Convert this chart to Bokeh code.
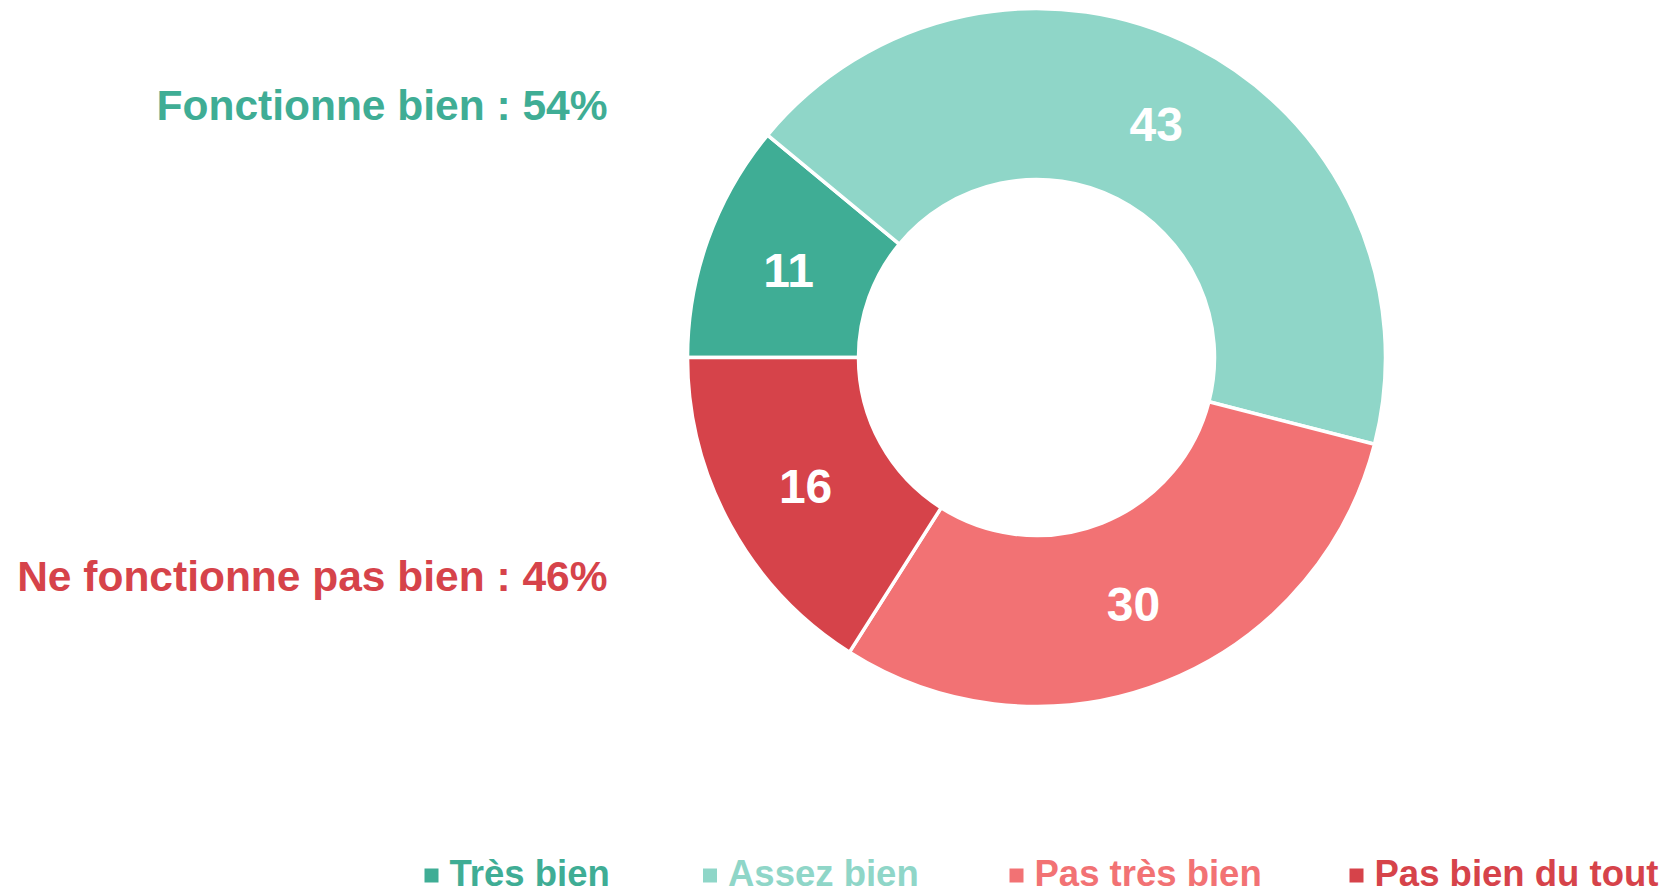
import math
from bokeh.plotting import figure
from bokeh.models import Range1d, ColumnDataSource
from bokeh.core.properties import value
from bokeh.embed import file_html
from bokeh.resources import INLINE

# ---- data ----
categories = ["Très bien", "Assez bien", "Pas très bien", "Pas bien du tout"]
values = [11, 43, 30, 16]
colors = ["#3FAD95", "#8FD6C8", "#F27274", "#D6434A"]
group_labels = ["Fonctionne bien : 54%", "Ne fonctionne pas bien : 46%"]
group_colors = ["#3FAD95", "#D6434A"]

# ---- layout (pixels, measured from figure top-left) ----
W, H = 1669, 893
CX, CY = 1036, 357
R_OUT, R_IN = 349, 178
GROUP_X = 607
GROUP_Y = [105, 575.5]
LEG_X = [424, 702.5, 1009, 1349]
LEG_SQ_Y = 875
LEG_TXT_Y = 872.5
FONT = value("Liberation Sans")

p = figure(width=W, height=H, x_range=Range1d(0, W), y_range=Range1d(0, H),
           output_backend="svg", toolbar_location=None, min_border=0,
           x_axis_location=None, y_axis_location=None,
           outline_line_color=None, background_fill_color="white",
           border_fill_color="white")
p.grid.visible = False

total = sum(values)
starts, ends, mids = [], [], []
cum = 0
for v in values:
    a0 = math.pi - 2 * math.pi * cum / total
    cum += v
    a1 = math.pi - 2 * math.pi * cum / total
    starts.append(a0)
    ends.append(a1)
    mids.append((a0 + a1) / 2)

src = ColumnDataSource(dict(x=[CX] * len(values), y=[H - CY] * len(values),
                            start=starts, end=ends, color=colors))
p.annular_wedge(x="x", y="y", inner_radius=R_IN, outer_radius=R_OUT,
                start_angle="start", end_angle="end", direction="clock",
                fill_color="color", line_color="white", line_width=3.5,
                source=src)

rm = (R_IN + R_OUT) / 2
lab = ColumnDataSource(dict(
    x=[CX + rm * math.cos(a) for a in mids],
    y=[H - CY + rm * math.sin(a) for a in mids],
    t=[str(v) for v in values]))
p.text(x="x", y="y", text="t", source=lab, text_color="white",
       text_font=FONT, text_font_style="bold", text_font_size="48px",
       text_align="center", text_baseline="middle", y_offset=2)

grp = ColumnDataSource(dict(x=[GROUP_X] * 2, y=[H - y for y in GROUP_Y],
                            t=group_labels, c=group_colors))
p.text(x="x", y="y", text="t", text_color="c", source=grp,
       text_font=FONT, text_font_style="bold", text_font_size="42.5px",
       text_align="right", text_baseline="middle")

leg_sq = ColumnDataSource(dict(x=[x + 7 for x in LEG_X],
                               y=[H - LEG_SQ_Y] * 4, c=colors))
p.rect(x="x", y="y", width=14, height=14, fill_color="c", line_color=None,
       source=leg_sq)
leg_t = ColumnDataSource(dict(x=[x + 25 for x in LEG_X],
                              y=[H - LEG_TXT_Y] * 4, t=categories, c=colors))
p.text(x="x", y="y", text="t", text_color="c", source=leg_t,
       text_font=FONT, text_font_style="bold", text_font_size="36.5px",
       text_align="left", text_baseline="middle")

open("out.html", "w").write(file_html(p, INLINE))
